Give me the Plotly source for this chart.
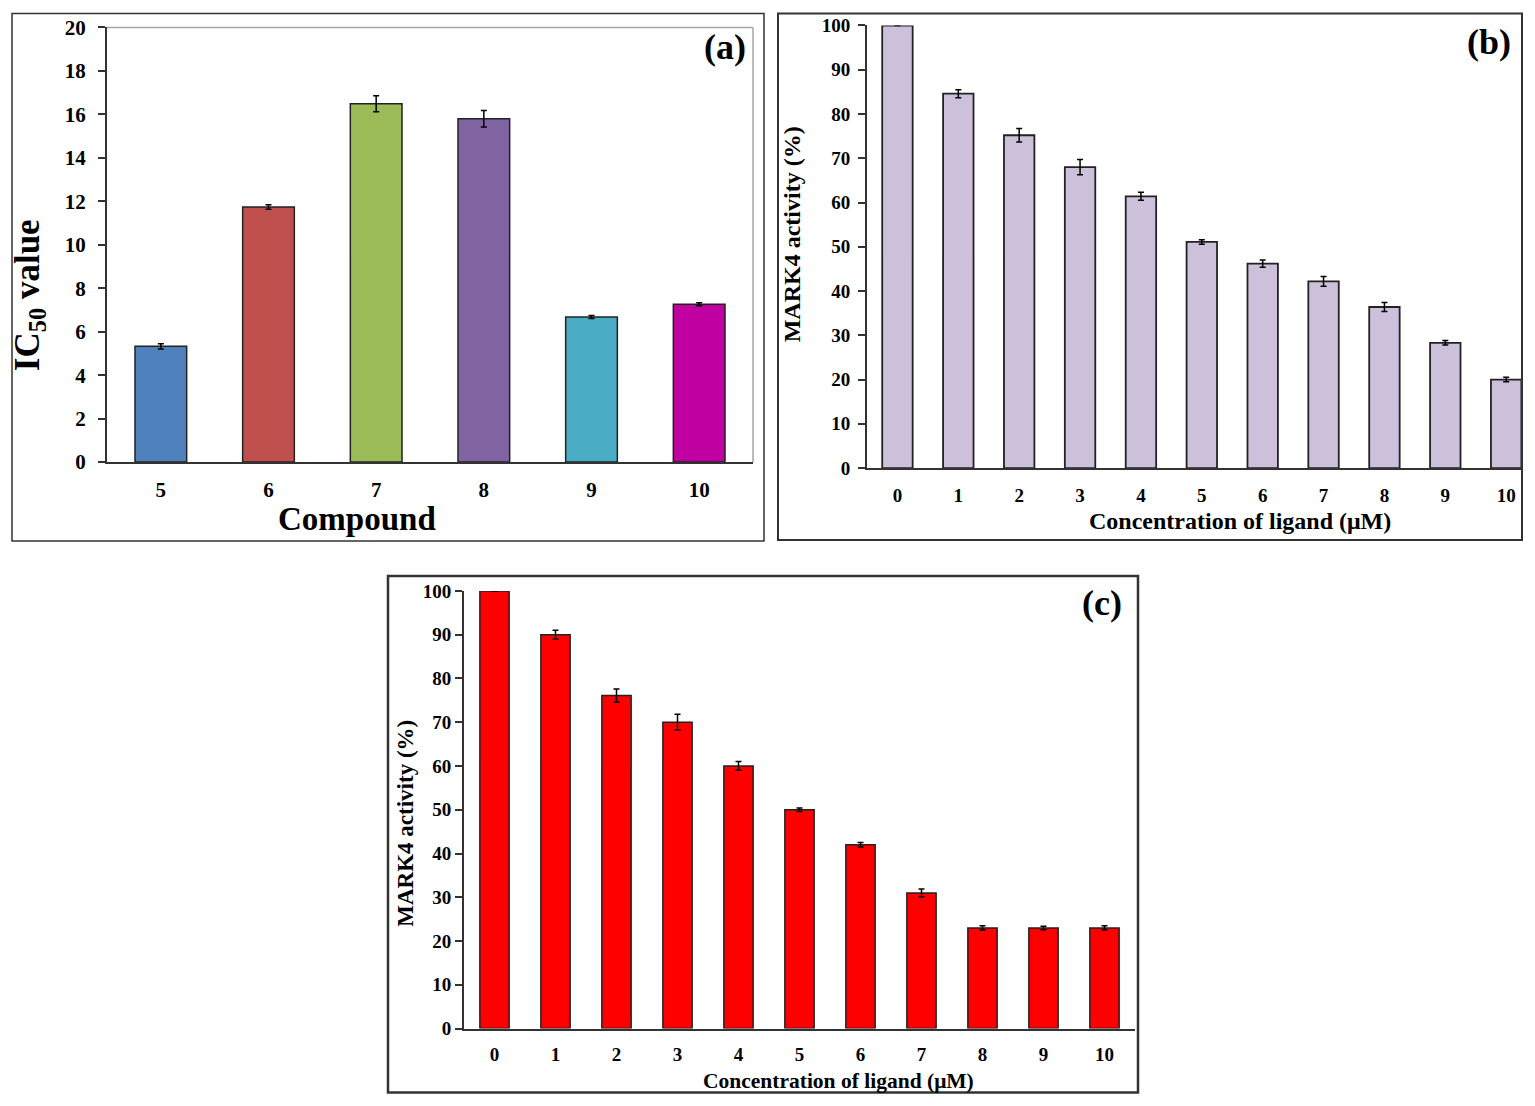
import plotly.graph_objects as go

# panel (a): IC50 per compound
compounds = ["5", "6", "7", "8", "9", "10"]
ic50 = [5.33, 11.74, 16.49, 15.80, 6.68, 7.26]
ic50_err = [0.12, 0.10, 0.37, 0.38, 0.07, 0.07]
compound_colors = ["#4F81BD", "#C0504D", "#9BBB59", "#8064A2", "#4BACC6", "#C000A0"]

# panels (b) and (c): MARK4 activity vs ligand concentration
conc = ["0", "1", "2", "3", "4", "5", "6", "7", "8", "9", "10"]
activity_b = [100, 84.6, 75.2, 68.0, 61.4, 51.1, 46.2, 42.2, 36.4, 28.3, 20.0]
err_b = [0, 0.9, 1.5, 1.7, 0.9, 0.5, 0.8, 1.1, 1.0, 0.5, 0.5]
activity_c = [100, 90.0, 76.1, 70.0, 60.0, 50.0, 42.0, 31.0, 23.0, 23.0, 23.0]
err_c = [0, 1.0, 1.5, 1.8, 1.0, 0.4, 0.5, 0.9, 0.5, 0.4, 0.5]

W, H = 1535, 1106
FONT = "Liberation Serif, Times New Roman, serif"


def px(x):
    return x / W


def py(y):
    # the photographed page shows the figure about 1083 px tall, 11.5 px down
    f = 1 - (y - 11.5) / 1083
    return min(max(f, 0.0015), 0.9985)


fig = go.Figure()

err_style = dict(type="data", color="black", thickness=1.5, width=3)

fig.add_trace(go.Bar(
    x=compounds, y=ic50, width=0.48,
    marker=dict(color=compound_colors, line=dict(color="#222222", width=1.5)),
    error_y=dict(array=ic50_err, **err_style),
    xaxis="x", yaxis="y",
))

fig.add_trace(go.Bar(
    x=conc, y=activity_b, width=0.5,
    marker=dict(color="#CCC0DA", line=dict(color="#222222", width=1.8)),
    error_y=dict(array=err_b, **err_style),
    xaxis="x2", yaxis="y2",
))

fig.add_trace(go.Bar(
    x=conc, y=activity_c, width=0.48,
    marker=dict(color="#FF0000", line=dict(color="#222222", width=1.5)),
    error_y=dict(array=err_c, **err_style),
    xaxis="x3", yaxis="y3",
))

tick_font = dict(family=FONT, size=19, color="black", weight="bold")

x_common = dict(
    type="category", showgrid=False, zeroline=False,
    showline=True, linecolor="#333333", linewidth=2,
    ticks="", fixedrange=True,
)
y_common = dict(
    showgrid=False, zeroline=False,
    showline=True, linecolor="#333333", linewidth=2,
    ticks="outside", ticklen=7, tickwidth=1.5, tickcolor="#333333",
)

fig.update_layout(
    width=W, height=H,
    margin=dict(l=0, r=0, t=0, b=0),
    paper_bgcolor="white", plot_bgcolor="white",
    showlegend=False,
    xaxis=dict(
        **x_common, domain=[px(107), px(753)], anchor="y",
        range=[-0.5, 5.5], tickfont=dict(tick_font, size=21),
        ticklabelstandoff=8,
    ),
    yaxis=dict(
        **y_common, domain=[py(462), py(27)], anchor="x",
        range=[0, 20], dtick=2, tickfont=dict(tick_font, size=21),
        ticklabelstandoff=8,
    ),
    xaxis2=dict(
        **x_common, domain=[px(867), px(1522)], anchor="y2",
        range=[-0.5, 10.26], tickfont=tick_font,
        ticklabelstandoff=9,
    ),
    yaxis2=dict(
        **y_common, domain=[py(468), py(25)], anchor="x2",
        range=[0, 100], dtick=10, tickfont=tick_font,
        ticklabelstandoff=4,
    ),
    xaxis3=dict(
        **x_common, domain=[px(464), px(1135)], anchor="y3",
        range=[-0.5, 10.5], tickfont=tick_font,
        ticklabelstandoff=8,
    ),
    yaxis3=dict(
        **y_common, domain=[py(1029), py(591)], anchor="x3",
        range=[0, 100], dtick=10, tickfont=tick_font,
        ticklabelstandoff=0,
    ),
)

# panel borders
for x0, y0, x1, y1, w in [(12, 11, 764, 541, 1.5), (778, 11, 1522, 540, 2), (388, 576, 1138, 1095, 2.5)]:
    fig.add_shape(type="rect", xref="paper", yref="paper",
                  x0=px(x0), x1=px(x1), y0=py(y1), y1=py(y0),
                  line=dict(color="#333333", width=w), layer="above")

# light grey frame on the top and right of plot (a)
fig.add_shape(type="line", xref="paper", yref="paper",
              x0=px(107), x1=px(753), y0=py(27), y1=py(27),
              line=dict(color="#A6A6A6", width=1.5))
fig.add_shape(type="line", xref="paper", yref="paper",
              x0=px(753), x1=px(753), y0=py(462), y1=py(27),
              line=dict(color="#A6A6A6", width=1.5))


def label(text, x, y, size, angle=0):
    fig.add_annotation(
        text=text, x=px(x), y=py(y), xref="paper", yref="paper",
        showarrow=False, textangle=angle, xanchor="center", yanchor="middle",
        font=dict(family=FONT, size=size, color="black", weight="bold"),
    )


label("IC<sub>50</sub> value", 29, 295, 35, -90)
label("Compound", 357, 519, 33)
label("(a)", 725, 47, 36)

label("MARK4 activity (%)", 792, 234, 24, -90)
label("Concentration of ligand (μM)", 1240, 521, 24)
label("(b)", 1489, 42, 36)

label("MARK4 activity (%)", 406, 824, 23, -90)
label("Concentration of ligand (μM)", 838, 1081, 21.5)
label("(c)", 1102, 603, 36)

# pin the plot to the top-left corner of the page
pin = (
    "document.body.style.margin='0';"
    "document.documentElement.style.overflow='hidden';"
    "document.body.style.overflow='hidden';"
    "var gd=document.getElementById('{plot_id}');"
    "gd.style.position='fixed';gd.style.top='0';gd.style.left='0';"
)

fig.write_html("out.html", post_script=pin, config={"displayModeBar": False})
